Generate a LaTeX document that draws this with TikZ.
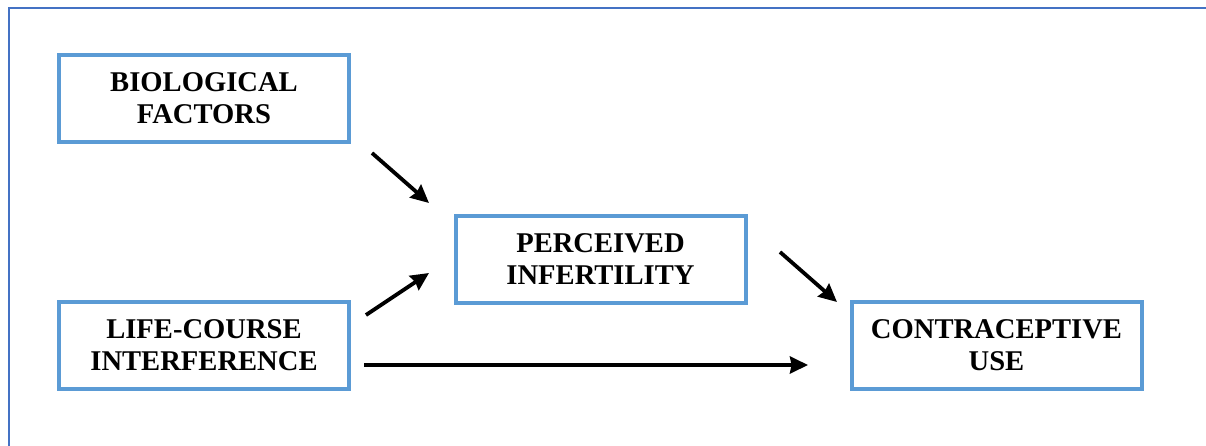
\documentclass[tikz,border=0pt]{standalone}
\usepackage{fontspec}
\setmainfont{Liberation Serif}
\usetikzlibrary{arrows.meta}
\definecolor{framecol}{HTML}{4472C4}
\definecolor{boxcol}{HTML}{5B9BD5}
\begin{document}
\begin{tikzpicture}[x=0.5pt,y=-0.5pt,
  factor/.style={draw=boxcol, line width=2pt, rectangle, minimum width=145pt, minimum height=43.5pt,
    align=center, font=\fontsize{14.3}{16}\selectfont\bfseries, inner sep=0pt},
  link/.style={line width=1.9pt, -{Stealth[length=9pt,width=8.5pt,inset=0.8pt]}}]
\useasboundingbox (0,0) rectangle (1206,445);
\draw[framecol, line width=1.3pt] (9,460) -- (9,8) -- (1220,8);
\node[factor] (bio) at (204,98.5) {BIOLOGICAL\\FACTORS};
\node[factor] (life) at (204,345.5) {LIFE-COURSE\\INTERFERENCE};
\node[factor] (perc) at (600.5,259.5) {PERCEIVED\\INFERTILITY};
\node[factor] (contra) at (996.5,345.5) {CONTRACEPTIVE\\USE};
\coordinate (a1s) at (372,153);
\coordinate (a1e) at (429,203);
\coordinate (a2s) at (366,315);
\coordinate (a2e) at (429,273);
\coordinate (a3s) at (780,252);
\coordinate (a3e) at (837,302);
\coordinate (a4s) at (364,365);
\coordinate (a4e) at (808,365);
\draw[link] (a1s) -- (a1e);
\draw[link] (a2s) -- (a2e);
\draw[link] (a3s) -- (a3e);
\draw[link] (a4s) -- (a4e);
\end{tikzpicture}
\end{document}
